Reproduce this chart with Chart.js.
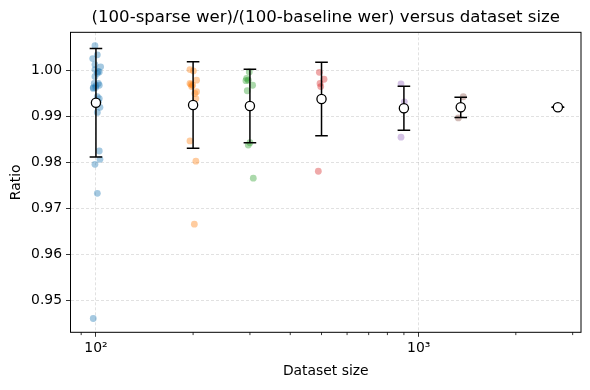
<!DOCTYPE html>
<html lang="en">
<head>
<meta charset="UTF-8">
<script src="https://cdn.jsdelivr.net/npm/chart.js@4.4.1/dist/chart.umd.min.js"></script>
<title>Ratio versus dataset size</title>
<style>
  body { margin: 0; background: #fff; }
</style>
</head>
<body>
<canvas id="ratioChart" width="590" height="390"></canvas>
<script>
// dataset sizes, group means and spread
const sizes = [100, 200, 300, 500, 900, 1350, 2700];
const means = [0.9929, 0.9924, 0.9922, 0.9937, 0.9917, 0.9919, 0.9919];
const stds  = [0.0118, 0.0094, 0.0080, 0.0080, 0.0048, 0.0022, 0.0];

// individual runs, x is the jittered dataset size
const runX = [
  [99.3, 101, 97.7, 99.3, 103.4, 99.3, 102.4, 101.5, 101, 99.3, 98.8, 101.7, 100, 102.4, 98.1, 99.8, 98.1, 101, 102.4, 101.7, 102.9, 101, 102.4, 102.9, 99.3, 101, 98.1],
  [195.6, 200.3, 195.6, 197, 199.4, 205, 198, 205, 202.6, 204, 195.6, 204, 201.8],
  [298.6, 293, 296.5, 291.6, 305.8, 294.3, 300, 296.5, 307.3],
  [492.3, 509, 494.7, 497.2, 488.7],
  [881.6, 902.5, 881.6],
  [1375, 1327],
  [2700]
];
const runY = [
  [1.0053, 1.0033, 1.0025, 1.0012, 1.0007, 1.0001, 0.9996, 0.9997, 0.9993, 0.9986, 0.9971, 0.9971, 0.9966, 0.9967, 0.9962, 0.9962, 0.9960, 0.9942, 0.9938, 0.9931, 0.9919, 0.9908, 0.9824, 0.9806, 0.9795, 0.9732, 0.9460],
  [1.0001, 0.9998, 0.9971, 0.9969, 0.9967, 0.9978, 0.9964, 0.9953, 0.9949, 0.9938, 0.9846, 0.9802, 0.9665],
  [0.9996, 0.9982, 0.9978, 0.9977, 0.9967, 0.9955, 0.9842, 0.9837, 0.9765],
  [0.9995, 0.9980, 0.9971, 0.9964, 0.9780],
  [0.9970, 0.9931, 0.9854],
  [0.9942, 0.9896],
  [0.9919]
];

const yTicks = [0.95, 0.96, 0.97, 0.98, 0.99, 1.00];
const xMajor = [100, 1000];
const xMinor = [90, 200, 300, 400, 500, 600, 700, 800, 900, 2000, 3000];

const colours = ['31,119,180', '255,127,14', '44,160,44', '214,39,40', '148,103,189', '140,86,75', '227,119,194'];
const font = { family: 'DejaVu Sans', size: 13.9 };

Chart.defaults.font.family = 'DejaVu Sans';
Chart.defaults.color = '#000';

var datasets = [];
// mean markers on top
datasets.push({
  data: sizes.map((s, i) => ({ x: s, y: means[i] })),
  pointRadius: 4.6,
  pointBackgroundColor: '#fff',
  pointBorderColor: '#000',
  pointBorderWidth: 1.3
});
// error bars with caps
sizes.forEach(function (s, i) {
  datasets.push({
    data: [{ x: s, y: means[i] - stds[i] }, { x: s, y: means[i] + stds[i] }],
    showLine: true,
    borderColor: '#000',
    borderWidth: 1.5,
    pointStyle: 'line',
    pointRadius: 6.3,
    pointBorderColor: '#000',
    pointBorderWidth: 1.5
  });
});
// runs underneath
sizes.forEach(function (s, i) {
  datasets.push({
    data: runX[i].map((x, j) => ({ x: x, y: runY[i][j] })),
    pointRadius: 3.4,
    pointBorderWidth: 0,
    pointBackgroundColor: 'rgba(' + colours[i] + ',0.4)'
  });
});

const framePlugin = {
  id: 'frame',
  afterDraw(chart) {
    const { ctx, chartArea: a } = chart;
    const x = chart.scales.x;
    ctx.save();
    ctx.strokeStyle = '#000';
    ctx.lineWidth = 0.8;
    ctx.beginPath();
    xMinor.forEach(function (v) {
      const px = x.getPixelForValue(v);
      ctx.moveTo(px, a.bottom);
      ctx.lineTo(px, a.bottom + 2.8);
    });
    ctx.stroke();
    ctx.lineWidth = 1;
    ctx.strokeRect(a.left, a.top, a.right - a.left, a.bottom - a.top);
    ctx.restore();
  }
};

new Chart(document.getElementById('ratioChart'), {
  type: 'scatter',
  data: { datasets: datasets },
  options: {
    responsive: false,
    animation: false,
    events: [],
    layout: { padding: { left: 0, right: 9, top: 0, bottom: 0 } },
    plugins: {
      legend: { display: false },
      tooltip: { enabled: false },
      title: {
        display: true,
        text: '(100-sparse wer)/(100-baseline wer) versus dataset size',
        font: { family: 'DejaVu Sans', size: 16.6, weight: 'normal' },
        color: '#000',
        fullSize: false,
        padding: { top: 8, bottom: 4.4 }
      }
    },
    scales: {
      x: {
        type: 'logarithmic',
        min: 83.4,
        max: 3184,
        afterBuildTicks: s => { s.ticks = xMajor.concat(xMinor).map(v => ({ value: v })); },
        afterFit: s => { s.height = 57.7; },
        ticks: {
          autoSkip: false,
          maxRotation: 0,
          padding: 3,
          font: font,
          color: '#000',
          callback: v => v === 100 ? '10²' : (v === 1000 ? '10³' : '')
        },
        grid: {
          color: c => xMajor.includes(c.tick.value) ? 'rgba(0,0,0,0.15)' : 'rgba(0,0,0,0)',
          tickColor: c => xMajor.includes(c.tick.value) ? '#000' : 'rgba(0,0,0,0)',
          lineWidth: 0.8,
          tickWidth: 0.8,
          tickLength: 4.5
        },
        border: { display: false, dash: [3, 2] },
        title: { display: true, text: 'Dataset size', font: font, color: '#000', padding: { top: 0, bottom: 10 } }
      },
      y: {
        min: 0.943,
        max: 1.0082,
        afterBuildTicks: s => { s.ticks = yTicks.map(v => ({ value: v })); },
        afterFit: s => { s.width = 70.5; },
        ticks: {
          padding: 4,
          font: font,
          color: '#000',
          callback: v => v.toFixed(2)
        },
        grid: {
          color: 'rgba(0,0,0,0.15)',
          tickColor: '#000',
          lineWidth: 0.8,
          tickWidth: 0.8,
          tickLength: 4.5
        },
        border: { display: false, dash: [3, 2] },
        title: { display: true, text: 'Ratio', font: font, color: '#000', padding: { top: 8, bottom: 0 } }
      }
    }
  },
  plugins: [framePlugin]
});
</script>
</body>
</html>
